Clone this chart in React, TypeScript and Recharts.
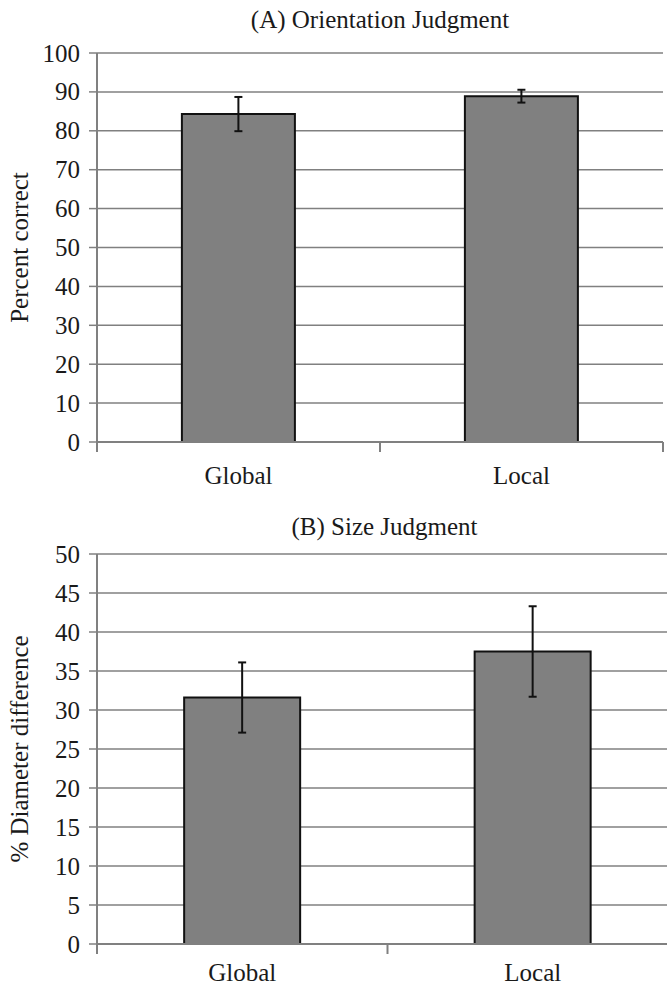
import React from 'react';
import { ComposedChart, Bar, XAxis, YAxis, CartesianGrid, ErrorBar, Label } from 'recharts';

const categories = ['Global', 'Local'];
const orientationMeans = [84.3, 88.9];
const orientationErrors = [4.4, 1.65];
const sizeMeans = [31.6, 37.5];
const sizeErrors = [4.5, 5.8];
const orientationTicks = [0, 10, 20, 30, 40, 50, 60, 70, 80, 90, 100];
const sizeTicks = [0, 5, 10, 15, 20, 25, 30, 35, 40, 45, 50];

const dataA = categories.map((c, i) => ({ cat: c, value: orientationMeans[i], err: orientationErrors[i] }));
const dataB = categories.map((c, i) => ({ cat: c, value: sizeMeans[i], err: sizeErrors[i] }));

const FONT = "'Liberation Serif', 'Times New Roman', Times, 'DejaVu Serif', serif";
const FS = 25;
const GRAY = '#808080';
const TEXT = '#1a1a1a';

const makeXTick = (labelDy: number) => (props: any) => {
  const { x, y, payload, index, visibleTicksCount, width } = props;
  const n = visibleTicksCount || 1;
  const bw = width ? width / n : (payload?.offset || 0) * 2;
  return (
    <g>
      <line x1={x - bw / 2} x2={x - bw / 2} y1={y} y2={y + 10} stroke={GRAY} strokeWidth={2} />
      {index === n - 1 && (
        <line x1={x + bw / 2} x2={x + bw / 2} y1={y} y2={y + 10} stroke={GRAY} strokeWidth={2} />
      )}
      <text x={x} y={y + labelDy} textAnchor="middle" style={{ fontFamily: FONT }} fontSize={FS} fill={TEXT}>
        {payload.value}
      </text>
    </g>
  );
};

const YTick = (props: any) => {
  const { x, y, payload } = props;
  return (
    <text x={x} y={y} dy={FS * 0.34} textAnchor="end" style={{ fontFamily: FONT }} fontSize={FS} fill={TEXT}>
      {payload.value}
    </text>
  );
};

const yLabel = (text: string) => (props: any) => {
  const vb = props.viewBox || {};
  const cx = 19;
  const cy = (vb.y || 0) + (vb.height || 0) / 2;
  return (
    <text
      x={cx}
      y={cy}
      transform={`rotate(-90 ${cx} ${cy})`}
      textAnchor="middle"
      dominantBaseline="central"
      style={{ fontFamily: FONT }}
      fontSize={FS}
      fill={TEXT}
    >
      {text}
    </text>
  );
};

const Panel = ({ data, ticks, max, label, width, height, marginTop, marginRight, xHeight, labelDy }: any) => {
  const XT = makeXTick(labelDy);
  return (
    <ComposedChart
      width={width}
      height={height}
      data={data}
      margin={{ top: marginTop, right: marginRight, left: 0, bottom: 0 }}
      barCategoryGap="30%"
    >
      <CartesianGrid vertical={false} stroke={GRAY} strokeWidth={1.5} />
      <XAxis
        dataKey="cat"
        height={xHeight}
        tickLine={false}
        tickSize={0}
        tickMargin={0}
        axisLine={{ stroke: GRAY, strokeWidth: 2 }}
        tick={<XT />}
        interval={0}
      />
      <YAxis
        width={97}
        domain={[0, max]}
        ticks={ticks}
        interval={0}
        tickSize={8}
        tickMargin={9}
        axisLine={{ stroke: GRAY, strokeWidth: 2 }}
        tickLine={{ stroke: GRAY, strokeWidth: 1.5 }}
        tick={<YTick />}
      >
        <Label content={yLabel(label)} />
      </YAxis>
      <Bar dataKey="value" fill={GRAY} stroke="#111" strokeWidth={2} isAnimationActive={false}>
        <ErrorBar dataKey="err" width={4} stroke="#111" strokeWidth={2} />
      </Bar>
    </ComposedChart>
  );
};

const titleStyle: React.CSSProperties = {
  position: 'absolute',
  fontFamily: FONT,
  fontSize: FS,
  lineHeight: '26px',
  color: TEXT,
  textAlign: 'center',
  whiteSpace: 'nowrap',
};

export default function App() {
  return (
    <div style={{ position: 'absolute', left: 0, top: 0, width: 667, height: 988, overflow: 'hidden', background: '#fff' }}>
      <div style={{ ...titleStyle, left: 97, width: 566, top: 7 }}>(A) Orientation Judgment</div>
      <div style={{ position: 'absolute', left: 0, top: 0 }}>
        <Panel
          data={dataA}
          ticks={orientationTicks}
          max={100}
          label="Percent correct"
          width={667}
          height={495}
          marginTop={53}
          marginRight={4}
          xHeight={53}
          labelDy={42}
        />
      </div>
      <div style={{ ...titleStyle, left: 97, width: 575, top: 514 }}>(B) Size Judgment</div>
      <div style={{ position: 'absolute', left: 0, top: 500 }}>
        <Panel
          data={dataB}
          ticks={sizeTicks}
          max={50}
          label="% Diameter difference"
          width={681}
          height={488}
          marginTop={54}
          marginRight={3}
          xHeight={44}
          labelDy={37}
        />
      </div>
    </div>
  );
}
